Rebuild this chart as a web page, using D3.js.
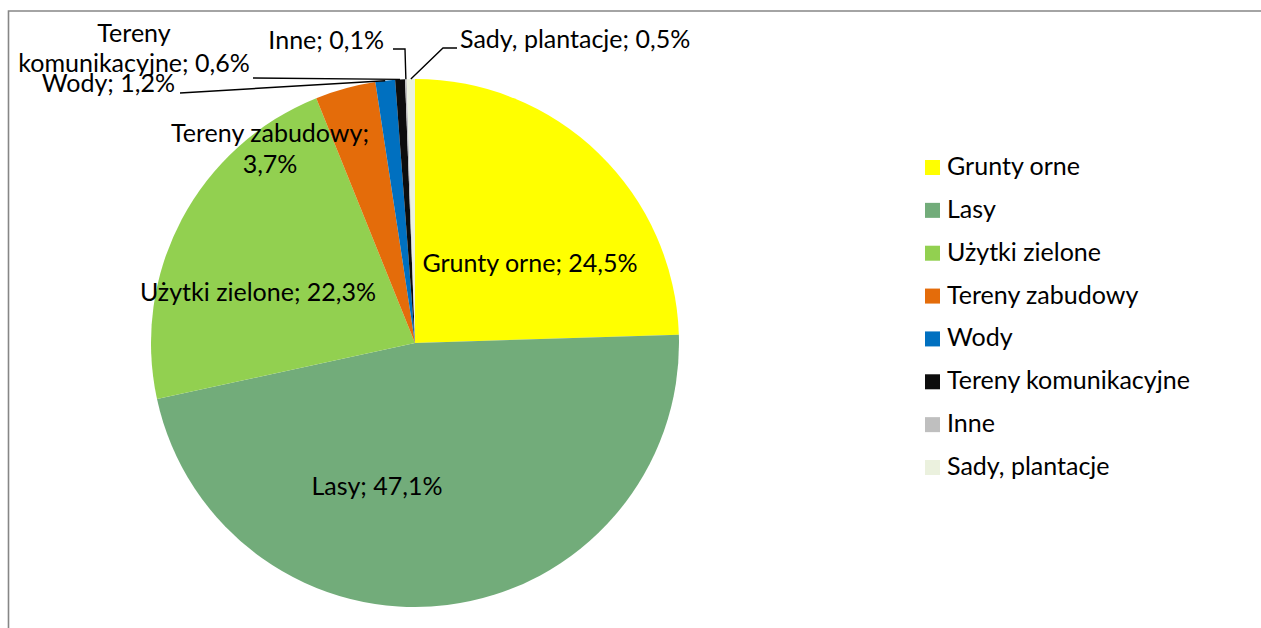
<!DOCTYPE html>
<html><head><meta charset="utf-8">
<script src="https://cdn.jsdelivr.net/npm/d3@7/dist/d3.min.js"></script>
<style>html,body{margin:0;padding:0;background:#fff;}svg{display:block;}</style>
</head><body>
<svg id="chart" width="1261" height="628"></svg>
<script>
const categories = ["Grunty orne","Lasy","Użytki zielone","Tereny zabudowy","Wody","Tereny komunikacyjne","Inne","Sady, plantacje"];
const values = [24.5, 47.1, 22.3, 3.7, 1.2, 0.6, 0.1, 0.5];
const labelNames = ["Grunty orne","Lasy","Użytki zielone","Tereny zabudowy","Wody","Tereny komunikacyjne","Inne","Sady, plantacje"];
const colors = ["#FFFF00","#72AC7A","#92D050","#E46C0A","#0070C0","#0D0D0D","#BFBFBF","#EBF1DE"];

const W = 1261, H = 628;
const cx = 415, cy = 343, R = 264;
const FONT = "Lato, 'Open Sans', 'Noto Sans', sans-serif";

const svg = d3.select("#chart");
// frame
svg.append("path").attr("d", `M8.5,${H+5}V11H${W+5}`).attr("fill","none").attr("stroke","#868686").attr("stroke-width",1.6);

// measure font size so text width matches the reference
const probe = svg.append("text").attr("font-family", FONT).attr("font-size", 20).text("Tereny komunikacyjne");
const w20 = probe.node().getComputedTextLength();
probe.remove();
const FS = 20 * 243 / w20;

const fmt = v => d3.format(".1f")(v).replace(".", ",") + "%";

const pie = d3.pie().sort(null).value(d => d.v);
const arcs = pie(categories.map((c,i)=>({c, v: values[i], i})));
const arc = d3.arc().innerRadius(0).outerRadius(R);

const g = svg.append("g").attr("transform", `translate(${cx},${cy})`);
g.selectAll("path.slice").data(arcs).join("path")
  .attr("class","slice")
  .attr("d", arc)
  .attr("fill", d => colors[d.data.i]);

// label layout (relative to pie centre): inside labels and outside labels with leader lines
const labelLayout = {
  0: {lines:[[115,-71]], anchor:"middle"},
  1: {lines:[[-38,152]], anchor:"middle"},
  2: {lines:[[-157,-42]], anchor:"middle"},
  3: {lines:[[-145,-201],[-145,-170]], anchor:"middle", split:true},
  4: {lines:[[-240,-251]], anchor:"end", leader:[[-235,-250]]},
  5: {lines:[[-281,-301],[-281,-271]], anchor:"middle", split:true, leader:[[-162,-265]]},
  6: {lines:[[-31,-294]], anchor:"end", leader:[[-22,-294],[-10,-294]]},
  7: {lines:[[45,-295]], anchor:"start", leader:[[42,-295],[28,-295]]}
};

const midPoint = (d, r) => {
  const a = (d.startAngle + d.endAngle)/2;
  return [r*Math.sin(a), -r*Math.cos(a)];
};

arcs.forEach(d => {
  const i = d.data.i;
  const L = labelLayout[i];
  const full = labelNames[i] + "; " + fmt(values[i]);
  const texts = L.split ? (i===5 ? ["Tereny", "komunikacyjne; " + fmt(values[i])] : [labelNames[i] + ";", fmt(values[i])]) : [full];
  texts.forEach((t, k) => {
    g.append("text")
      .attr("x", L.lines[k][0]).attr("y", L.lines[k][1])
      .attr("text-anchor", L.anchor)
      .attr("font-family", FONT).attr("font-size", FS).attr("fill", "#000")
      .text(t);
  });
  if (L.leader) {
    const pts = L.leader.concat([midPoint(d, R)]);
    g.append("path").attr("d", d3.line()(pts))
      .attr("fill","none").attr("stroke","#000").attr("stroke-width",1.4);
  }
});

// legend
const leg = svg.append("g").attr("transform","translate(925,160)");
const legY = d3.scalePoint().domain(categories).range([0, 300]);
const items = leg.selectAll("g").data(categories).join("g")
  .attr("transform", d => `translate(0,${legY(d)})`);
items.append("rect").attr("width",15).attr("height",15).attr("fill",(d,i)=>colors[i]);
items.append("text").attr("x",22).attr("y",15)
  .attr("font-family", FONT).attr("font-size", FS).attr("fill","#000")
  .text(d => d);
</script>
</body></html>
